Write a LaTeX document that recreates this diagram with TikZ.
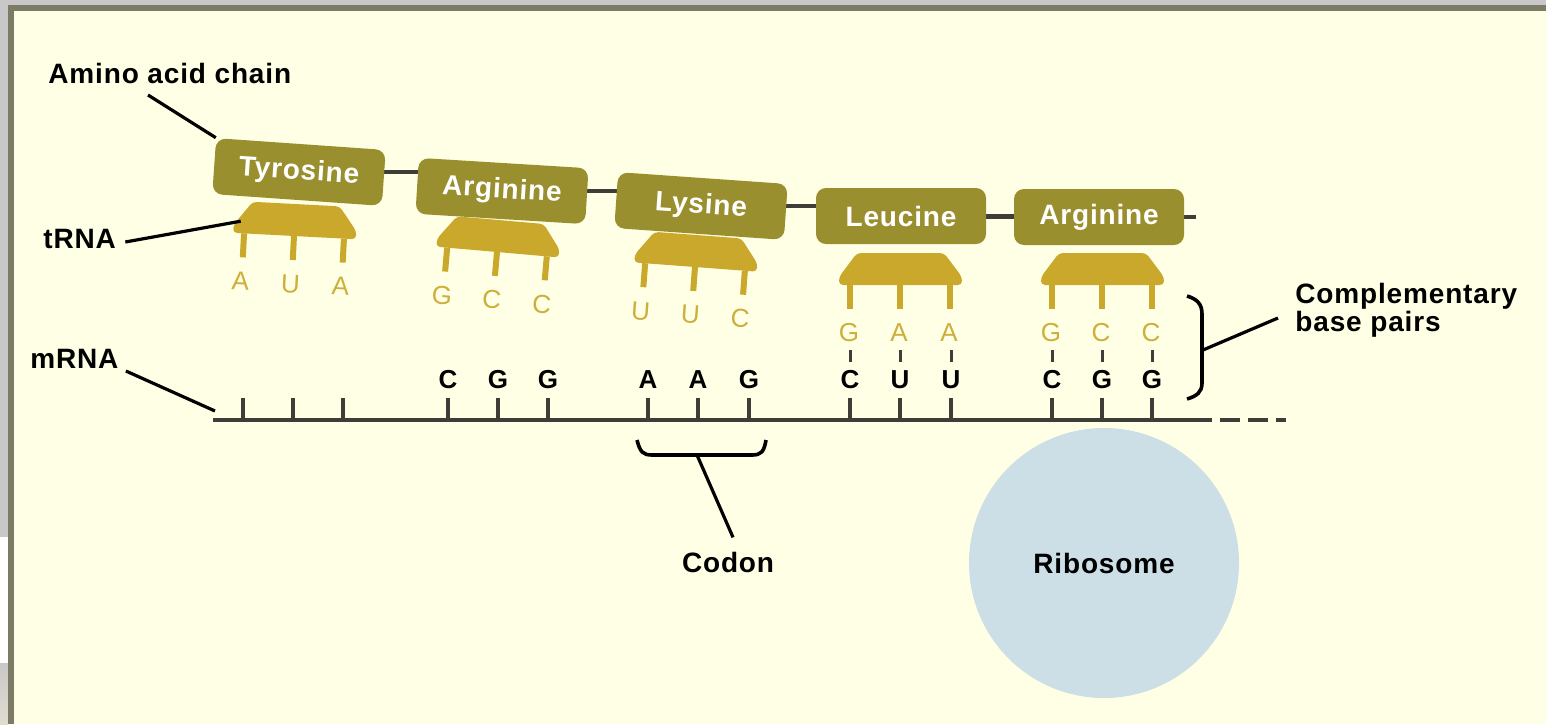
\documentclass[tikz,border=0pt]{standalone}
\usepackage{fontspec}
\setmainfont{Liberation Sans}
\newfontface\spacedbold{Liberation Sans Bold}[LetterSpace=3]
\usetikzlibrary{calc}
\definecolor{cream}{HTML}{FFFFE5}
\definecolor{frame}{HTML}{7C7B66}
\definecolor{olive}{HTML}{9A8F2E}
\definecolor{gold}{HTML}{C9A82B}
\definecolor{goldtxt}{HTML}{CDAF3C}
\definecolor{ribo}{HTML}{CCDEE6}
\definecolor{strand}{HTML}{3E3D38}
\definecolor{outgrey}{HTML}{C8C8C8}
\pgfdeclarelayer{bg}\pgfdeclarelayer{back}\pgfsetlayers{bg,back,main}
\tikzset{
 aabox/.style={fill=olive, rounded corners=5pt, minimum width=85pt, minimum height=28pt, inner sep=0pt, text=white, font=\spacedbold\fontsize{14}{16}\selectfont},
 lbl/.style={inner sep=0pt, font=\spacedbold\fontsize{14}{16}\selectfont, text=black},
 nt/.style={inner sep=0pt, font=\bfseries\fontsize{13}{15}\selectfont, text=black},
 anti/.style={inner sep=0pt, text=goldtxt, font=\fontsize{13}{15}\selectfont},
 pointer/.style={draw=black, line width=1.6pt},
 chainln/.style={draw=strand, line width=2.4pt},
 strandln/.style={draw=strand, line width=2.2pt},
 tickln/.style={draw=strand, line width=1.8pt},
 leg/.style={draw=gold, line width=3pt},
 bond/.style={draw=strand, line width=1.5pt},
}
\newcommand{\trnaunit}[7]{%
 \begin{scope}[shift={(#2,#3)}, rotate=#4]
  \fill[gold, rounded corners=2pt] (-61,0) -- (-61,-8) -- (-43,-32) -- (44,-32) -- (62,-8) -- (62,0) -- cycle;
  \foreach \xx in {-50,0,50} \draw[leg] (\xx,0) -- (\xx,24);
  \coordinate (#1-l) at (-54,-12);
  \node[anti, rotate=#4] (#1-a) at (-51,48) {#5};
  \node[anti, rotate=#4] (#1-b) at (-1,48) {#6};
  \node[anti, rotate=#4] (#1-c) at (49,48) {#7};
 \end{scope}}
\begin{document}
\begin{tikzpicture}[x=0.5pt, y=-0.5pt]
\useasboundingbox (0,0) rectangle (1546,724);
\begin{pgfonlayer}{bg}
 \fill[cream] (0,0) rectangle (1546,724);
 \fill[outgrey] (0,0) rectangle (1546,5);
 \fill[outgrey] (0,0) rectangle (8,537);
 \fill[white] (0,537) rectangle (8,663);
 \shade[top color=outgrey, bottom color={rgb,255:red,226;green,220;blue,208}] (0,663) rectangle (8,724);
 \fill[frame] (8,5) rectangle (1546,11);
 \fill[frame] (8,5) rectangle (14,724);
\end{pgfonlayer}

% amino acid boxes
\node[aabox, rotate=-4] (tyr) at (299,172) {Tyrosine};
\node[aabox, rotate=-3.5] (argA) at (502,191) {Arginine};
\node[aabox, rotate=-4] (lys) at (701,206) {Lysine};
\node[aabox] (leu) at (901,216) {Leucine};
\node[aabox] (argB) at (1099,217) {Arginine};
\coordinate (chainend) at (1196,217);
\begin{pgfonlayer}{back}
 \draw[chainln] (tyr.center) -- (tyr.center -| argA.center);
 \draw[chainln] (argA.center) -- (argA.center -| lys.center);
 \draw[chainln] (lys.center) -- (lys.center -| leu.center);
 \draw[chainln] (leu.center) -- (argB.center);
 \draw[chainln] (argB.center) -- (chainend);
\end{pgfonlayer}

% tRNAs
\trnaunit{t1}{294}{236}{-3}{A}{U}{A}
\trnaunit{t2}{497}{252}{-5}{G}{C}{C}
\trnaunit{t3}{695}{267}{-4.3}{U}{U}{C}
\trnaunit{t4}{900}{285}{0}{G}{A}{A}
\trnaunit{t5}{1102}{285}{0}{G}{C}{C}

% mRNA strand
\coordinate (m0) at (213,420);
\coordinate (m1) at (1212,420);
\coordinate (m2) at (1220,420);
\coordinate (m3) at (1286,420);
\draw[strandln] (m0) -- (m1);
\draw[strandln, dash pattern=on 10pt off 4pt] (m2) -- (m3);
\foreach \x in {243,293,343,448,498,548,648,698,749,850,900,951,1052,1102,1152}
  \draw[tickln] (\x,398) -- (\x,420);
\foreach \x/\l in {448/C,498/G,548/G,648/A,698/A,749/G,850/C,900/U,951/U,1052/C,1102/G,1152/G}
  \node[nt] (n\x) at (\x,380) {\l};
\foreach \x in {850,900,951,1052,1102,1152}
  \draw[bond] (\x,350) -- (\x,362);

% ribosome
\node[circle, fill=ribo, minimum size=135pt, inner sep=0pt, font=\spacedbold\fontsize{14}{16}\selectfont] (ribo) at (1104,563) {Ribosome};

% labels
\node[lbl, anchor=base west] (aacl) at (48,83) {Amino acid chain};
\draw[pointer] ($(aacl.base west)+(100,12)$) -- (tyr.north west);
\node[lbl, anchor=base west] (trnal) at (43,248) {tRNA};
\draw[pointer] ($(trnal.base east)+(9,-6)$) -- (t1-l);
\node[lbl, anchor=base west] (mrnal) at (30,368) {mRNA};
\draw[pointer] ($(mrnal.base east)+(7,3)$) -- ($(m0)+(2,-9)$);

% codon brace
\node[lbl, anchor=base] (codl) at (728,572) {Codon};
\coordinate (codmid) at (697,455);
\draw[line width=1.8pt] (637,440) .. controls (640,452) and (643,455) .. (652,455) -- (752,455) .. controls (761,455) and (764,452) .. (766,440);
\draw[pointer] (codmid) -- ($(codl.north)+(5,-14)$);

% complementary brace
\node[lbl, anchor=base west] (comp1) at (1295,303) {Complementary};
\node[lbl, anchor=base west] (comp2) at (1295,331) {base pairs};
\coordinate (compmid) at (1203,350);
\draw[line width=1.8pt] (1187,296) .. controls (1197,299) and (1202,304) .. (1202,314) -- (1202,383) .. controls (1202,392) and (1197,396) .. (1187,399);
\draw[pointer] (compmid) -- ($(comp1.base west)+(-17,15)$);
\end{tikzpicture}
\end{document}
